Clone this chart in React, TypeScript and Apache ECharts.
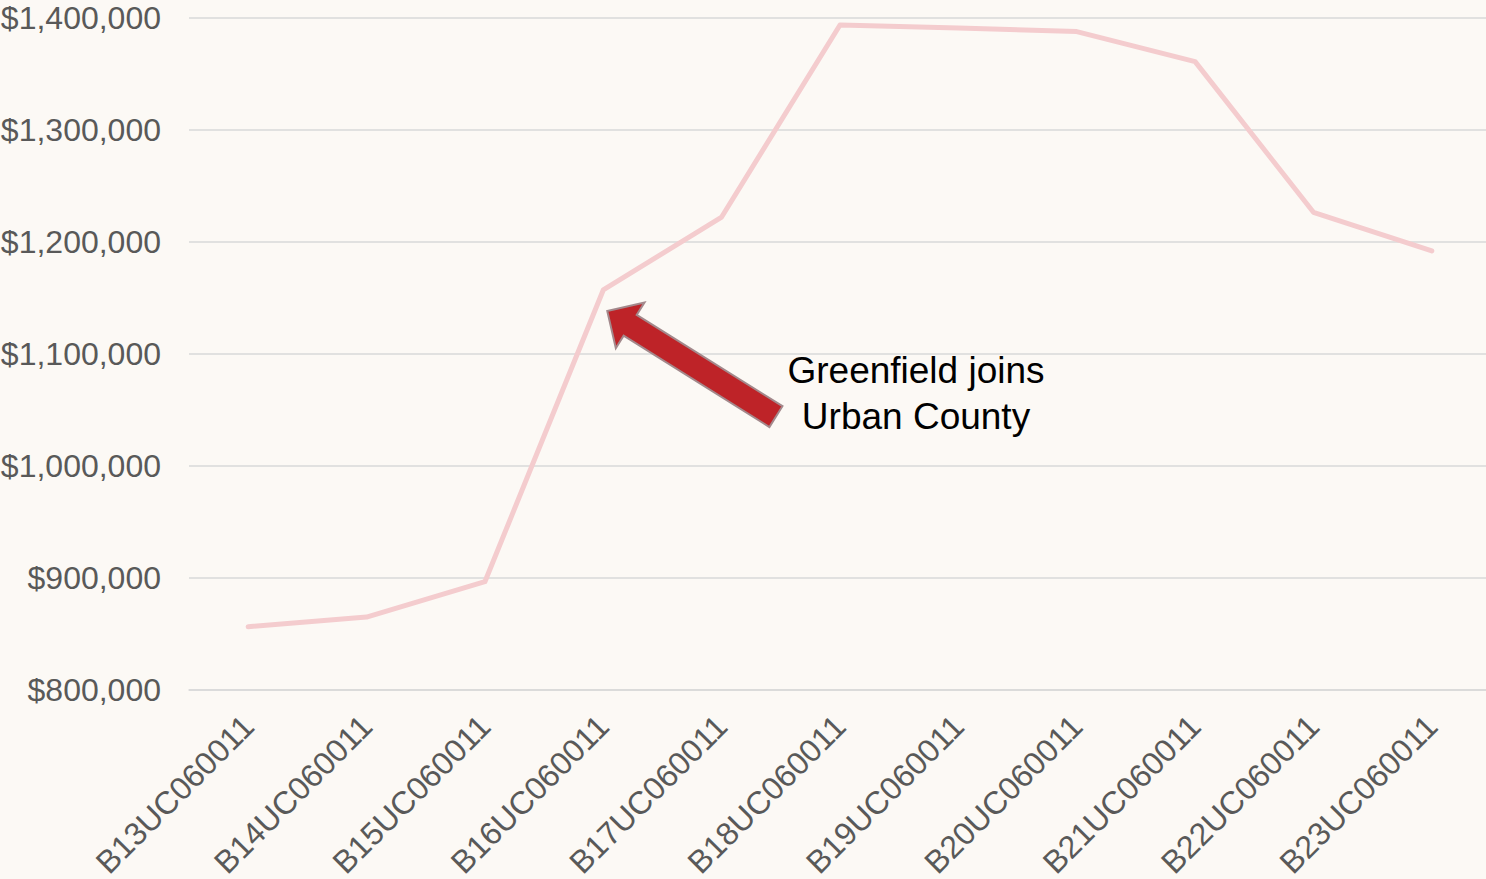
import React, { useEffect, useRef } from "react";
import * as echarts from "echarts";

const categories = [
  "B13UC060011",
  "B14UC060011",
  "B15UC060011",
  "B16UC060011",
  "B17UC060011",
  "B18UC060011",
  "B19UC060011",
  "B20UC060011",
  "B21UC060011",
  "B22UC060011",
  "B23UC060011",
];
const funding = [
  856500, 865100, 896600, 1156900, 1222000, 1393300, 1390700, 1387400, 1360600,
  1226200, 1191700,
];
const yMin = 800000;
const yMax = 1400000;
const yStep = 100000;
const annotationText = ["Greenfield joins", "Urban County"];
const annotatedIndex = 3;

const FONT = "'Liberation Sans', Arial, Helvetica, sans-serif";

export default function App() {
  const ref = useRef<HTMLDivElement>(null);
  useEffect(() => {
    document.body.style.margin = "0";
    document.body.style.background = "#FCF9F5";
    const chart = echarts.init(ref.current!, null, { renderer: "svg" });
    chart.setOption({
      animation: false,
      backgroundColor: "#FCF9F5",
      grid: {
        left: 189,
        top: 17.5,
        width: 1302,
        height: 672.5,
        containLabel: false,
        outerBoundsMode: "none",
      },
      xAxis: {
        type: "category",
        data: categories,
        boundaryGap: true,
        axisLine: { show: true, lineStyle: { color: "#D9D9D9", width: 1.5 } },
        axisTick: { show: false },
        axisLabel: {
          interval: 0,
          rotate: 45,
          margin: 31,
          color: "#595959",
          fontSize: 32,
          fontFamily: FONT,
        },
      },
      yAxis: {
        type: "value",
        min: yMin,
        max: yMax,
        interval: yStep,
        axisLine: { show: false },
        axisTick: { show: false },
        splitLine: { show: true, lineStyle: { color: "#D9D9D9", width: 1.5 } },
        axisLabel: {
          margin: 28,
          color: "#595959",
          fontSize: 32,
          fontFamily: FONT,
          formatter: (v: number) => "$" + v.toLocaleString("en-US"),
        },
      },
      series: [
        {
          type: "line",
          data: funding,
          symbol: "none",
          lineStyle: { color: "#F4CCCE", width: 5, cap: "round", join: "round" },
        },
      ],
    });

    const p = chart.convertToPixel({ xAxisIndex: 0, yAxisIndex: 0 }, [
      annotatedIndex,
      funding[annotatedIndex],
    ]) as number[];
    const tip = [p[0] + 4, p[1] + 21];
    const dx = 168.8, dy = 105.7;
    const len = Math.sqrt(dx * dx + dy * dy);
    const d = [dx / len, dy / len];
    const n = [-d[1], d[0]];
    const headLen = 27, headHalf = 27, shaftHalf = 12.3, total = 199;
    const pt = (a: number, b: number) => [tip[0] + d[0] * a + n[0] * b, tip[1] + d[1] * a + n[1] * b];
    const arrowPoints = [
      pt(0, 0),
      pt(headLen, -headHalf),
      pt(headLen, -shaftHalf),
      pt(total, -shaftHalf),
      pt(total, shaftHalf),
      pt(headLen, shaftHalf),
      pt(headLen, headHalf),
    ];

    chart.setOption({
      graphic: [
        {
          type: "polygon",
          shape: { points: arrowPoints },
          style: { fill: "#BE2328", stroke: "#A3898C", lineWidth: 2 },
          z: 100,
        },
        {
          type: "text",
          x: 916,
          y: 393,
          style: {
            text: annotationText.join("\n"),
            font: `37px ${FONT}`,
            fill: "#000000",
            align: "center",
            verticalAlign: "middle",
            lineHeight: 46,
          },
          z: 100,
        },
      ],
    });
    return () => chart.dispose();
  }, []);
  return (
    <div
      ref={ref}
      style={{ position: "absolute", left: 0, top: 0, width: 1486, height: 879 }}
    />
  );
}
